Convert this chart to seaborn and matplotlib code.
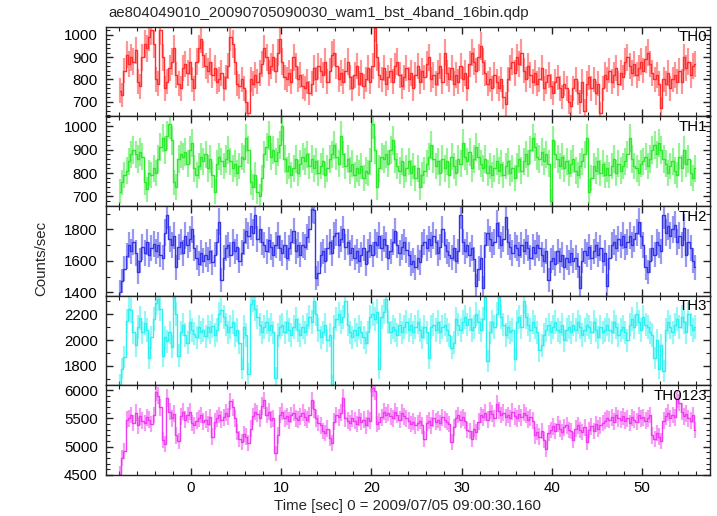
import numpy as np
import pandas as pd
import matplotlib
matplotlib.use("Agg")
import matplotlib.pyplot as plt
from matplotlib.ticker import MultipleLocator
import seaborn as sns

# light curve values (counts/sec), 0.25 s bins
th0 = [
    750, 730, 840, 910, 870, 900, 880, 930, 790, 770, 900, 960, 940, 990, 1020, 960,
    800, 780, 1020, 900, 760, 790, 850, 880, 940, 820, 780, 760, 850, 870, 830, 880,
    800, 760, 880, 940, 980, 910, 860, 840, 880, 820, 850, 790, 800, 830, 760, 810,
    860, 990, 960, 880, 780, 770, 800, 760, 700, 650, 800, 780, 820, 790, 830, 870,
    940, 900, 830, 860, 900, 840, 920, 980, 880, 810, 800, 830, 790, 900, 860, 800,
    820, 770, 760, 790, 740, 780, 850, 800, 860, 840, 820, 880, 790, 840, 910, 920,
    860, 800, 830, 790, 840, 880, 810, 760, 820, 860, 780, 830, 770, 800, 850, 790,
    860, 1030, 900, 820, 800, 850, 780, 810, 840, 790, 860, 880, 820, 770, 810, 850,
    800, 830, 760, 820, 860, 790, 840, 810, 870, 900, 800, 820, 780, 830, 860, 790,
    920, 830, 800, 850, 780, 820, 790, 860, 800, 830, 760, 870, 920, 880, 840, 900,
    950, 880, 830, 780, 800, 760, 820, 790, 760, 800, 720, 690, 800, 850, 880, 830,
    900, 870, 920, 840, 800, 860, 820, 790, 830, 780, 800, 850, 760, 790, 820, 770,
    740, 790, 810, 760, 720, 780, 760, 700, 680, 760, 800, 740, 700, 790, 660, 780,
    810, 760, 800, 740, 780, 650, 760, 820, 800, 840, 790, 820, 850, 780, 830, 810,
    880, 900, 860, 830, 870, 820, 850, 880, 840, 890, 920, 870, 830, 800, 820, 780,
    670, 800, 780, 830, 760, 800, 820, 790, 840, 790, 900, 850, 880, 820, 860, 870,
]
th1 = [
    720, 760, 790, 810, 850, 880, 900, 880, 860, 890, 870, 760, 730, 800, 790, 820,
    800, 860, 910, 950, 900, 960, 1010, 940, 760, 740, 860, 880, 870, 890, 840, 900,
    930, 820, 790, 830, 870, 850, 880, 820, 860, 790, 720, 840, 870, 850, 830, 860,
    900, 850, 820, 840, 800, 830, 870, 860, 950, 900, 760, 740, 790, 720, 700, 780,
    880, 910, 960, 870, 900, 850, 890, 920, 1000, 860, 810, 830, 790, 820, 860, 800,
    840, 870, 850, 880, 830, 860, 820, 850, 800, 830, 850, 790, 820, 860, 880, 920,
    870, 840, 960, 880, 830, 860, 810, 840, 790, 820, 800, 830, 780, 810, 800, 850,
    1010, 900, 740, 820, 870, 860, 880, 840, 900, 940, 860, 830, 810, 850, 790, 820,
    850, 800, 830, 780, 820, 740, 790, 810, 840, 870, 920, 860, 830, 850, 800, 860,
    820, 850, 790, 870, 830, 800, 860, 840, 930, 870, 850, 890, 820, 860, 910, 870,
    840, 820, 860, 800, 830, 790, 820, 850, 810, 840, 790, 830, 850, 800, 820, 780,
    830, 860, 810, 850, 880, 840, 900, 950, 910, 870, 860, 890, 850, 880, 840, 680,
    940, 880, 860, 830, 870, 820, 850, 800, 840, 860, 810, 790, 830, 850, 880, 950,
    720, 780, 830, 810, 850, 800, 840, 790, 820, 790, 830, 860, 800, 840, 810, 830,
    850, 880, 950, 860, 830, 820, 800, 840, 850, 870, 830, 860, 900, 920, 880, 930,
    900, 860, 840, 800, 830, 850, 810, 790, 870, 820, 900, 840, 860, 800, 780, 820,
]
th2 = [
    1400, 1470, 1550, 1630, 1700, 1660, 1720, 1650, 1530, 1600, 1690, 1650, 1720, 1640, 1680, 1710,
    1660, 1700, 1640, 1620, 1780, 1890, 1740, 1700, 1760, 1560, 1690, 1720, 1650, 1760, 1700, 1740,
    1800, 1680, 1620, 1580, 1650, 1600, 1640, 1610, 1660, 1590, 1640, 1720, 1850, 1480, 1620, 1680,
    1700, 1640, 1720, 1660, 1690, 1600, 1650, 1720, 1790, 1760, 1820, 1780, 1890, 1740, 1800, 1720,
    1700, 1660, 1730, 1690, 1640, 1700, 1760, 1680, 1650, 1700, 1620, 1680, 1720, 1790, 1660, 1700,
    1640, 1700, 1690, 1750, 1800, 1930, 1920, 1490, 1520, 1640, 1660, 1600, 1680, 1720, 1650, 1760,
    1780, 1700, 1740, 1800, 1690, 1720, 1650, 1680, 1620, 1660, 1600, 1640, 1680, 1580, 1660, 1700,
    1640, 1720, 1700, 1760, 1680, 1740, 1700, 1620, 1660, 1720, 1790, 1700, 1650, 1690, 1720, 1670,
    1640, 1580, 1600, 1560, 1620, 1590, 1700, 1720, 1680, 1740, 1700, 1760, 1720, 1650, 1690, 1800,
    1700, 1660, 1640, 1620, 1680, 1600, 1660, 1890, 1720, 1660, 1700, 1640, 1680, 1610, 1440, 1550,
    1620, 1430, 1700, 1780, 1740, 1700, 1720, 1840, 1760, 1700, 1740, 1880, 1720, 1690, 1650, 1700,
    1680, 1640, 1700, 1660, 1720, 1680, 1620, 1690, 1650, 1700, 1680, 1640, 1600, 1660, 1480, 1600,
    1620, 1580, 1660, 1600, 1640, 1560, 1620, 1590, 1650, 1600, 1620, 1570, 1430, 1600, 1660, 1640,
    1690, 1620, 1660, 1700, 1640, 1680, 1600, 1650, 1440, 1620, 1700, 1720, 1680, 1740, 1700, 1760,
    1690, 1720, 1760, 1700, 1740, 1780, 1850, 1760, 1700, 1560, 1530, 1600, 1680, 1640, 1720, 1700,
    1660, 1890, 1780, 1820, 1760, 1800, 1830, 1720, 1760, 1700, 1810, 1640, 1720, 1680, 1600, 1560,
]
th3 = [
    1660, 1780, 1870, 2150, 2240, 2230, 2060, 1960, 2100, 2170, 2060, 2130, 2080, 1860, 2020, 2160,
    2290, 2320, 2240, 1880, 2020, 1990, 2060, 1950, 2330, 2200, 1880, 2060, 2120, 2040, 1980, 2140,
    2080, 2050, 2020, 2100, 2060, 2080, 2030, 2100, 2060, 2110, 2040, 2080, 2200, 2230, 2180, 2120,
    2060, 2100, 2140, 2040, 2080, 1980, 1780, 2100, 2040, 1740, 2280, 2310, 2240, 2180, 2120, 2060,
    2100, 2140, 2080, 2120, 2060, 1710, 2040, 2100, 2120, 2060, 2140, 2080, 2040, 2100, 2160, 2080,
    2040, 2100, 2060, 2120, 2180, 2140, 2300, 2200, 2080, 2020, 2060, 2120, 2000, 2040, 1650, 2100,
    2160, 2200, 2140, 2180, 2300, 2120, 2060, 2020, 2080, 2040, 2100, 2060, 2020, 1980, 2060, 2180,
    2200, 2160, 2220, 1780, 2180, 2220, 2320, 2140, 2060, 2100, 2080, 2040, 2120, 2060, 2100, 2140,
    2080, 2120, 2060, 2100, 2140, 2080, 2020, 2100, 2060, 1860, 2100, 2120, 2080, 2140, 2060, 2100,
    2120, 2080, 2040, 1940, 1980, 2160, 2120, 2080, 2140, 2180, 2120, 2160, 2080, 2100, 2200, 2140,
    2080, 2160, 2330, 1840, 2060, 2140, 2100, 2200, 2330, 2180, 2120, 2040, 2100, 2060, 2080, 1850,
    2140, 2180, 2100, 2300, 2180, 2120, 2080, 2140, 2100, 2060, 1920, 1960, 2040, 2080, 2120, 2060,
    2100, 2140, 2080, 2060, 2120, 2000, 2080, 2100, 2060, 2120, 2080, 2140, 2100, 2040, 2080, 2120,
    2100, 2060, 2140, 2080, 2020, 2100, 2060, 2080, 2120, 2080, 2060, 2140, 2100, 2040, 2080, 2100,
    2060, 2000, 2120, 2160, 2100, 2200, 2140, 2080, 2180, 2120, 2100, 2060, 2040, 1860, 2000, 1780,
    1960, 1760, 2080, 2140, 2100, 2060, 2120, 2160, 2100, 2180, 2140, 2060, 2200, 2120, 2080, 2100,
]
th0123 = [
    4520, 4800, 4920, 5480, 5500, 5560, 5420, 5600, 5380, 5540, 5460, 5420, 5520, 5480, 5400, 5560,
    5960, 5900, 5700, 5120, 5040, 5860, 5620, 5500, 5580, 5200, 5100, 5540, 5620, 5480, 5560, 5620,
    5420, 5380, 5460, 5500, 5560, 5440, 5480, 5400, 5520, 5180, 5440, 5500, 5560, 5480, 5520, 5600,
    5540, 5800, 5700, 5500, 5260, 5140, 5080, 5220, 5180, 5060, 5320, 5540, 5620, 5580, 5500, 5720,
    5820, 5560, 5620, 5480, 5500, 4880, 5200, 5560, 5620, 5500, 5540, 5460, 5560, 5600, 5500, 5480,
    5540, 5600, 5520, 5480, 5560, 5820, 5660, 5500, 5420, 5380, 5280, 5240, 5320, 5160, 5060, 5440,
    5560, 5520, 5600, 5860, 5500, 5460, 5420, 5500, 5460, 5400, 5520, 5440, 5480, 5380, 5500, 5460,
    6040, 5980, 5400, 5440, 5520, 5620, 5560, 5600, 5540, 5500, 5620, 5560, 5480, 5600, 5540, 5500,
    5460, 5400, 5440, 5380, 5420, 5460, 5380, 5140, 5420, 5460, 5380, 5500, 5440, 5480, 5420, 5520,
    5480, 5440, 5400, 5080, 5340, 5500, 5560, 5480, 5520, 5460, 5300, 5280, 5140, 5320, 5260, 5440,
    5560, 5520, 5600, 5480, 5640, 5580, 5500, 5760, 5640, 5560, 5600, 5520, 5560, 5500, 5620, 5540,
    5500, 5580, 5520, 5600, 5560, 5480, 5520, 5460, 5200, 5260, 5180, 5280, 5120, 4960, 5240, 5300,
    5360, 5280, 5400, 5320, 5260, 5340, 5380, 5300, 5280, 5120, 5320, 5380, 5300, 5260, 5340, 5080,
    5300, 5360, 5280, 5400, 5320, 5380, 5420, 5460, 5500, 5480, 5520, 5440, 5560, 5500, 5480, 5540,
    5460, 5500, 5420, 5520, 5480, 5440, 5560, 5500, 5520, 5460, 5500, 5560, 5200, 5140, 5240, 5180,
    5100, 5460, 5540, 5600, 5500, 5560, 5520, 5840, 5780, 5620, 5540, 5580, 5500, 5460, 5560, 5300,
]

bands = ["TH0", "TH1", "TH2", "TH3", "TH0123"]
series = [th0, th1, th2, th3, th0123]
colors = ["#ff2e2e", "#2ee82e", "#3434e8", "#2ef0f0", "#f03cf0"]
ylims = [(634, 1036), (658, 1043), (1378, 1948), (1650, 2343), (4500, 6085)]
major = [100, 100, 200, 200, 500]
minor = [20, 20, 100, 100, 100]

binsize = 0.25
t0 = -8.0

sns.set_theme(style="ticks")
plt.rcParams["font.family"] = ["Liberation Sans", "DejaVu Sans"]
fs = 10.8

fig, axes = plt.subplots(5, 1, sharex=True, figsize=(7.17, 5.16), dpi=100)
fig.subplots_adjust(left=0.148, right=0.990, top=0.948, bottom=0.0795, hspace=0)

for ax, name, vals, col, yl, mj, mn in zip(axes, bands, series, colors, ylims, major, minor):
    df = pd.DataFrame({"rate": vals})
    df["time"] = t0 + binsize * (df.index + 0.5)
    # poisson error of a 0.25 s bin
    df["err"] = np.sqrt(df["rate"] * binsize) / binsize
    ax.errorbar(df["time"], df["rate"], yerr=df["err"], fmt="none",
                ecolor=col, alpha=0.5, elinewidth=1.6, capsize=0, zorder=1)
    sns.lineplot(data=df, x="time", y="rate", ax=ax, color=col,
                 drawstyle="steps-mid", linewidth=1.0, zorder=2)
    ax.set_ylim(*yl)
    ax.set_xlim(-9.4, 57.5)
    ax.yaxis.set_major_locator(MultipleLocator(mj))
    ax.yaxis.set_minor_locator(MultipleLocator(mn))
    ax.xaxis.set_major_locator(MultipleLocator(10))
    ax.xaxis.set_minor_locator(MultipleLocator(2))
    ax.tick_params(which="both", direction="in", top=True, right=True, colors="#222222",
                   labelcolor="black", labelsize=fs)
    ax.tick_params(which="major", length=5, width=1)
    ax.tick_params(which="minor", length=3, width=0.8)
    ax.tick_params(axis="x", which="major", pad=4)
    ax.tick_params(axis="y", which="major", pad=6)
    ax.set_xlabel("")
    ax.set_ylabel("")
    for sp in ax.spines.values():
        sp.set_linewidth(1.0)
        sp.set_color("#222222")
    ax.text(0.995, 0.96, name, transform=ax.transAxes, ha="right", va="top",
            fontsize=fs, color="black")

fig.text(108 / 717, 1 - 13 / 516, "ae804049010_20090705090030_wam1_bst_4band_16bin.qdp",
         ha="left", va="center", fontsize=fs)
fig.text(407 / 717, 1 - 506 / 516, "Time [sec] 0 = 2009/07/05 09:00:30.160",
         ha="center", va="center", fontsize=fs)
fig.text(41 / 717, 1 - 258 / 516, "Counts/sec", rotation=90,
         ha="center", va="center", fontsize=fs)

fig.savefig("out.png", dpi=100)
